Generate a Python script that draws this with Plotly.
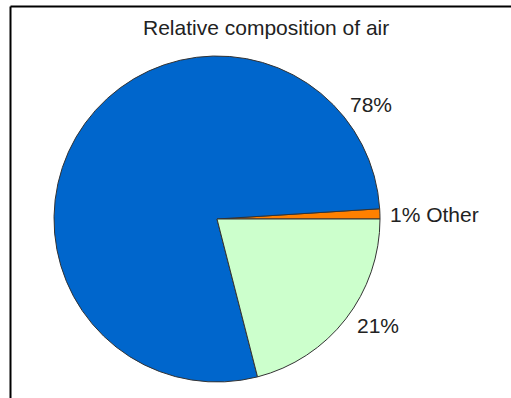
import plotly.graph_objects as go

# Composition of dry air (percent of volume)
gases = ["Other", "Nitrogen", "Oxygen"]
shares = [1, 78, 21]
label_texts = ["1% Other", "78%", "21%"]
slice_colors = ["#FF8000", "#0066CC", "#CCFFCC"]

W, H = 511, 398
cx, cy, r = 217, 219, 163  # pie centre and radius in pixels

# the first slice ("Other") sits just above 3 o'clock
first_span = 360.0 * shares[0] / sum(shares)

fig = go.Figure(
    go.Pie(
        labels=gases,
        values=shares,
        sort=False,
        direction="counterclockwise",
        rotation=90 - first_span,
        textinfo="none",
        hoverinfo="label+percent",
        marker=dict(colors=slice_colors, line=dict(color="#333333", width=1)),
        domain=dict(x=[(cx - r) / W, (cx + r) / W],
                    y=[1 - (cy + r) / H, 1 - (cy - r) / H]),
        showlegend=False,
    )
)

FONT = dict(family="Arial, Liberation Sans, sans-serif", size=21, color="#222222")

# label placement in pixels: (x, y, anchor)
label_spots = [(388, 215, "left"), (371, 105, "center"), (378, 325, "center")]
annotations = []
for text, (px, py, anchor) in zip(label_texts, label_spots):
    annotations.append(dict(
        x=px / W, y=1 - py / H, xref="paper", yref="paper",
        text=text, showarrow=False, xanchor=anchor, yanchor="middle",
        font=FONT,
    ))

annotations.append(dict(
    x=266 / W, y=1 - 28 / H, xref="paper", yref="paper",
    text="Relative composition of air", showarrow=False,
    xanchor="center", yanchor="middle",
    font=FONT,
))

fig.update_layout(
    width=W, height=H,
    margin=dict(l=0, r=0, t=0, b=0),
    paper_bgcolor="white",
    plot_bgcolor="white",
    annotations=annotations,
    shapes=[
        dict(type="line", xref="paper", yref="paper",
             x0=10.5 / W, x1=1.0, y0=1 - 6.5 / H, y1=1 - 6.5 / H,
             line=dict(color="black", width=2)),
        dict(type="line", xref="paper", yref="paper",
             x0=10.5 / W, x1=10.5 / W, y0=1 - 6.5 / H, y1=0,
             line=dict(color="black", width=2)),
    ],
)

fig.write_html("out.html")
